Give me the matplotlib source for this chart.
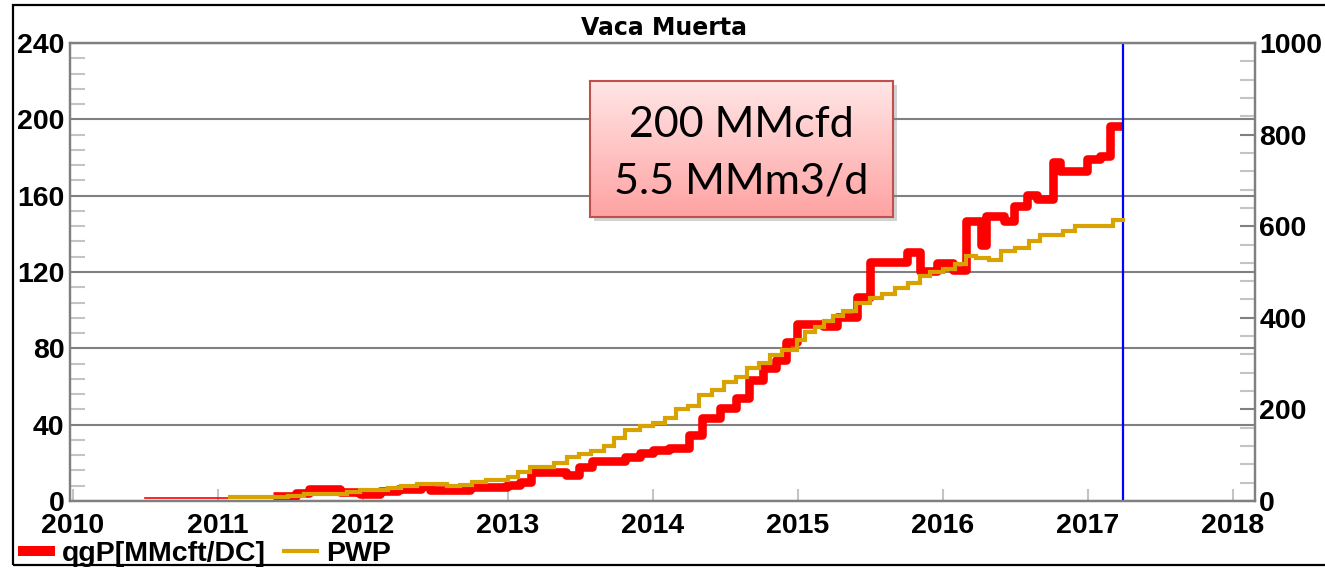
import matplotlib
matplotlib.use("Agg")
import matplotlib.pyplot as plt
import numpy as np
from matplotlib.lines import Line2D
from matplotlib.patches import Rectangle
from matplotlib.ticker import MultipleLocator
from matplotlib.colors import LinearSegmentedColormap

plt.rcParams["font.family"] = ["Liberation Sans", "DejaVu Sans"]
plt.rcParams["font.weight"] = "bold"

# ── Data ──────────────────────────────────────────────────────────────────────
# gas rate, MMcf/d (left axis), step changes at these dates
red_t = [2010.50, 2011.38, 2011.54, 2011.63, 2011.84, 2011.98, 2012.12, 2012.24,
         2012.40, 2012.46, 2012.56, 2012.74, 2012.99, 2013.08, 2013.16, 2013.40,
         2013.49, 2013.58, 2013.81, 2013.91, 2014.00, 2014.11, 2014.25, 2014.34,
         2014.46, 2014.57, 2014.66, 2014.76, 2014.85, 2014.92, 2014.99, 2015.17,
         2015.27, 2015.41, 2015.50, 2015.75, 2015.84, 2015.96, 2016.07, 2016.16,
         2016.26, 2016.30, 2016.42, 2016.49, 2016.58, 2016.65, 2016.76, 2016.81,
         2016.99, 2017.08, 2017.15, 2017.24]
red_v = [1.5, 2.6, 4.4, 6.3, 4.9, 3.9, 5.0, 6.2, 7.8, 5.6,
         5.8, 7.2, 8.4, 10.0, 15.4, 13.6, 18.0, 21.0, 23.3, 25.2,
         26.8, 27.8, 34.6, 43.6, 48.8, 54.0, 63.5, 69.8, 74.0, 83.5,
         93.0, 91.5, 96.6, 107.0, 125.0, 130.3, 120.4, 124.8, 121.3, 146.6,
         134.4, 149.2, 146.6, 154.5, 160.6, 158.0, 177.4, 172.7, 179.0, 180.7,
         196.5, 196.5]

# producing wells (right axis)
pwp_t = [2011.08, 2011.48, 2011.59, 2011.89, 2011.98, 2012.17, 2012.26, 2012.37,
         2012.58, 2012.67, 2012.75, 2012.85, 2013.00, 2013.07, 2013.15, 2013.32,
         2013.41, 2013.49, 2013.57, 2013.66, 2013.73, 2013.81, 2013.91, 2014.00,
         2014.08, 2014.16, 2014.24, 2014.32, 2014.41, 2014.49, 2014.57, 2014.65,
         2014.73, 2014.81, 2014.89, 2014.99, 2015.05, 2015.12, 2015.18, 2015.24,
         2015.31, 2015.40, 2015.50, 2015.58, 2015.67, 2015.76, 2015.84, 2015.91,
         2016.00, 2016.08, 2016.16, 2016.23, 2016.32, 2016.40, 2016.50, 2016.59,
         2016.67, 2016.83, 2016.91, 2017.17, 2017.24]
pwp_v = [8, 11, 15, 19, 24, 29, 33, 38, 33, 36,
         41, 46, 53, 64, 74, 82, 97, 103, 110, 120,
         137, 154, 164, 171, 181, 201, 208, 232, 243, 259,
         270, 290, 301, 319, 330, 352, 370, 381, 392, 403,
         414, 432, 443, 453, 465, 476, 491, 499, 507, 518,
         534, 531, 526, 545, 553, 567, 580, 589, 601, 613, 613]

years = list(range(2010, 2019))
cutoff_date = 2017.24
series_labels = ["qgP[MMcft/DC]", "PWP"]

# ── Style ─────────────────────────────────────────────────────────────────────
C_RED, C_GOLD, C_BLUE = "#FF0000", "#D8A300", "#0000FF"
C_SPINE, C_MINOR = "#808080", "#C4C4C4"
TICK_FS = 20.5

W, H = 1325, 570
fig = plt.figure(figsize=(W / 100, H / 100), dpi=100)
fig.patch.set_facecolor("white")

ax = fig.add_axes([70 / W, 69 / H, 1185 / W, 458 / H])
ax.set_facecolor("none")
ax2 = ax.twinx()

# ── Series ────────────────────────────────────────────────────────────────────
ax.plot(red_t[:2], red_v[:2], drawstyle="steps-post", color=C_RED, lw=1.2, zorder=3)
ax.plot(red_t[1:], red_v[1:], drawstyle="steps-post", color=C_RED, lw=6.2,
        solid_joinstyle="round", solid_capstyle="butt", zorder=3)
ax.axvline(cutoff_date, color=C_BLUE, lw=1.6, zorder=4)
ax2.plot(pwp_t, pwp_v, drawstyle="steps-post", color=C_GOLD, lw=3.0,
         solid_joinstyle="miter", zorder=3)

# ── Axes ──────────────────────────────────────────────────────────────────────
ax.set_xlim(2010 - 3 / 145, 2010 + 1182 / 145)
ax.set_ylim(0, 240)
ax2.set_ylim(0, 1000)

ax.set_xticks(years)
ax.yaxis.set_major_locator(MultipleLocator(40))
ax.yaxis.set_minor_locator(MultipleLocator(8))
ax2.yaxis.set_major_locator(MultipleLocator(200))
ax2.yaxis.set_minor_locator(MultipleLocator(40))

ax.grid(axis="y", which="major", color=C_SPINE, lw=1.5, zorder=0)
ax.set_axisbelow(True)

for a in (ax, ax2):
    for s in a.spines.values():
        s.set_color(C_SPINE)
        s.set_linewidth(1.6)

ax.tick_params(axis="x", direction="in", length=9, width=1.5, color=C_MINOR,
               labelsize=TICK_FS, pad=8.5, top=False)
ax.tick_params(axis="y", which="major", direction="in", length=0,
               labelsize=TICK_FS, pad=4)
ax.tick_params(axis="y", which="minor", direction="in", length=11, width=1.5,
               color=C_MINOR)
ax2.tick_params(axis="y", which="major", direction="in", length=11, width=1.5,
                color=C_SPINE, labelsize=TICK_FS, pad=3)
ax2.tick_params(axis="y", which="minor", direction="in", length=11, width=1.5,
                color=C_MINOR)

# ── Title ─────────────────────────────────────────────────────────────────────
fig.text(664 / W, 1 - 28 / H, "Vaca Muerta", ha="center", va="center",
         fontsize=17, fontweight="bold", family="DejaVu Sans")

# ── Annotation box (pink gradient) ───────────────────────────────────────────
bx, by, bw, bh = 590 / W, 1 - 217 / H, 303 / W, 136 / H
fig.patches.append(Rectangle((bx + 4 / W, by - 4 / H), bw, bh,
                             transform=fig.transFigure, facecolor="#7F7F7F",
                             alpha=0.35, edgecolor="none", zorder=4))
box = fig.add_axes([bx, by, bw, bh], zorder=5)
grad = np.linspace(0, 1, 256).reshape(-1, 1)
cmap = LinearSegmentedColormap.from_list("pk", ["#FFE6E6", "#FFA2A2"])
box.imshow(grad, aspect="auto", cmap=cmap, extent=[0, 1, 0, 1], origin="upper")
box.set_xticks([])
box.set_yticks([])
for s in box.spines.values():
    s.set_color("#C0504D")
    s.set_linewidth(1.5)
box.text(0.5, 0.588, "200 MMcfd", ha="center", va="baseline", fontsize=31,
         family="Lato", fontweight="normal", color="black")
box.text(0.5, 0.176, "5.5 MMm3/d", ha="center", va="baseline", fontsize=31,
         family="Lato", fontweight="normal", color="black")

# ── Legend ───────────────────────────────────────────────────────────────────
handles = [Line2D([], [], color=C_RED, lw=7.2, solid_capstyle="butt"),
           Line2D([], [], color=C_GOLD, lw=3.0, solid_capstyle="butt")]
fig.legend(handles, series_labels, loc="center left",
           bbox_to_anchor=(18 / W, 16 / H), ncol=2, frameon=False,
           fontsize=TICK_FS, handlelength=1.3, handletextpad=0.25,
           columnspacing=0.55, borderpad=0, borderaxespad=0)

# ── Outer frame ──────────────────────────────────────────────────────────────
fig.patches.append(Rectangle((13 / W, 5 / H), 1.1, 560 / H,
                             transform=fig.transFigure, fill=False,
                             edgecolor="black", lw=1.6, zorder=10))

fig.savefig("out.png", dpi=100, facecolor="white")
